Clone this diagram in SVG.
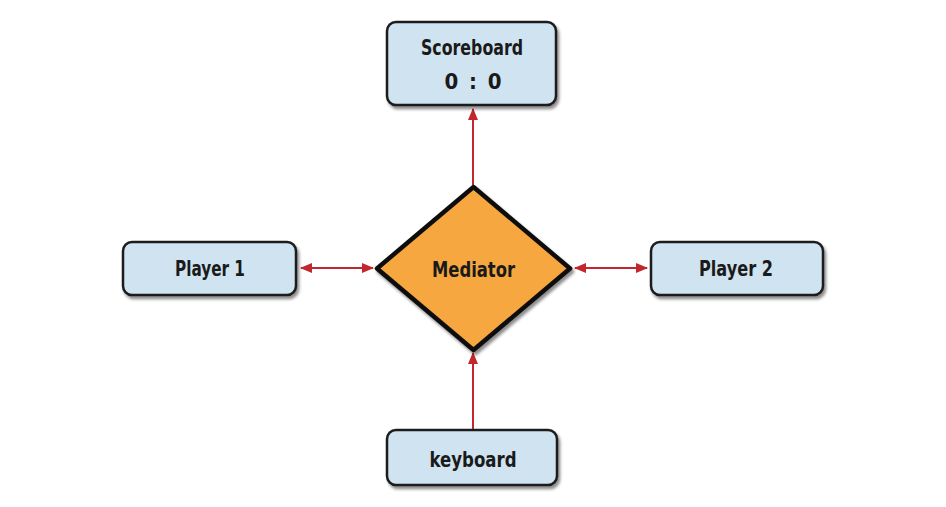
<svg xmlns="http://www.w3.org/2000/svg" width="946" height="507" viewBox="0 0 946 507">
<defs>
<style>
.box{fill:#cfe3f0;stroke:#1b1b1b;stroke-width:2.5;filter:url(#sh)}
.dia{fill:#f6a740;stroke:#111;stroke-width:4.5;stroke-linejoin:round;filter:url(#sh)}
.lbl{font-family:"DejaVu Sans Condensed","Liberation Sans",sans-serif;font-weight:bold;font-size:22px;fill:#1a1a1a;text-anchor:middle}
.con{stroke:#c1272d;stroke-width:2;fill:none}
</style>
<filter id="sh" x="-20%" y="-20%" width="150%" height="150%">
<feDropShadow dx="2" dy="3" stdDeviation="1.5" flood-color="#000" flood-opacity="0.45"/>
</filter>
<marker id="ah" viewBox="0 0 12 10" refX="11" refY="5" markerWidth="6" markerHeight="5" orient="auto-start-reverse" markerUnits="strokeWidth">
<path d="M0,0 L12,5 L0,10 z" fill="#c1272d"/>
</marker>
</defs>
<rect width="946" height="507" fill="#fff"/>
<g id="connectors">
<line class="con" x1="473" y1="185" x2="473" y2="109" marker-end="url(#ah)"/>
<line class="con" x1="301" y1="268" x2="373" y2="268" marker-start="url(#ah)" marker-end="url(#ah)"/>
<line class="con" x1="575" y1="268" x2="647" y2="268" marker-start="url(#ah)" marker-end="url(#ah)"/>
<line class="con" x1="473" y1="429" x2="473" y2="353" marker-end="url(#ah)"/>
</g>
<g id="scoreboard">
<rect class="box" x="387" y="22" width="169" height="83" rx="9"/>
<text class="lbl" x="472" y="55" textLength="102" lengthAdjust="spacingAndGlyphs">Scoreboard</text>
<text class="lbl" x="473" y="89" textLength="57" lengthAdjust="spacing" xml:space="preserve">0 : 0</text>
</g>
<g id="player1">
<rect class="box" x="123" y="242" width="173" height="53" rx="9"/>
<text class="lbl" x="210" y="276" textLength="70" lengthAdjust="spacingAndGlyphs">Player 1</text>
</g>
<g id="mediator">
<path class="dia" d="M473.5,187 L570,268.5 L473.5,350 L377,268.5 Z"/>
<text class="lbl" x="473.5" y="277" textLength="83" lengthAdjust="spacingAndGlyphs">Mediator</text>
</g>
<g id="player2">
<rect class="box" x="651" y="242" width="172" height="53" rx="9"/>
<text class="lbl" x="736" y="276" textLength="74" lengthAdjust="spacingAndGlyphs">Player 2</text>
</g>
<g id="keyboard">
<rect class="box" x="387" y="430" width="170" height="55" rx="9"/>
<text class="lbl" x="473" y="467" textLength="87" lengthAdjust="spacingAndGlyphs">keyboard</text>
</g>
</svg>
